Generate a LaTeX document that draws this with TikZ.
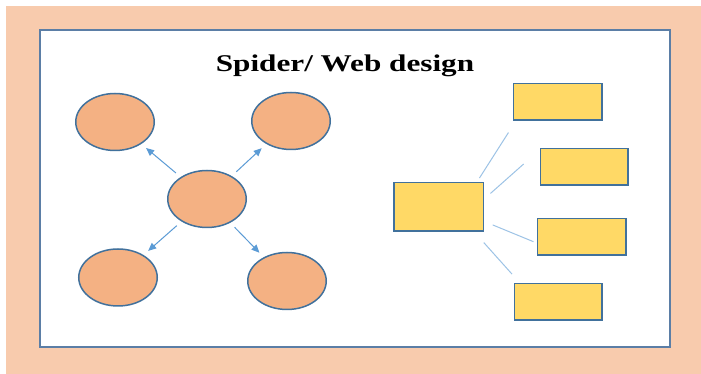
\documentclass[tikz,border=0pt]{standalone}
\usepackage{fontspec}
\usepackage{tikz}
\usetikzlibrary{shapes.geometric,arrows.meta}
\newfontfamily\titlefont[FakeStretch=1.3]{Liberation Serif}
\definecolor{peach}{HTML}{F8CBAD}
\definecolor{framecol}{HTML}{5B7EA6}
\definecolor{bubblefill}{HTML}{F4B183}
\definecolor{outline}{HTML}{41719C}
\definecolor{arrowcol}{HTML}{5B9BD5}
\definecolor{linkcol}{HTML}{9DC3E6}
\definecolor{boxfill}{HTML}{FFD966}
\tikzset{bubble style/.style={
		draw=outline,
		line width=1.5pt,
		fill=bubblefill,
		ellipse,
		inner sep=0pt,
		outer sep=0pt,
		minimum width=78.5pt,
		minimum height=57pt,
	},
	box style/.style={
		draw=outline,
		line width=1.5pt,
		fill=boxfill,
		rectangle,
		inner sep=0pt,
		outer sep=0pt,
		minimum width=#1,
		minimum height=36.5pt,
	},
	arrow style/.style={
		draw=arrowcol,
		line width=1pt,
		-{Triangle[length=8pt,width=7pt]},
		shorten <=7pt,
		shorten >=7pt
	},
	link style/.style={
		draw=linkcol,
		line width=1pt
	}
}

\begin{document}
\begin{tikzpicture}[x=1pt,y=1pt]
	\useasboundingbox (0,0) rectangle (701,374);
	\fill[peach] (6,0) rectangle (701,368);
	\draw[framecol,fill=white,line width=1.5pt] (40,27) rectangle (670,344);
	
	\node[anchor=base] (Title) at (345,302) {\titlefont\fontsize{24}{28}\selectfont\bfseries Spider/ Web design};
	
	% spider
	\node[bubble style] (Centre) at (207,175) {};
	\node[bubble style] (NorthWest) at (115,252) {};
	\node[bubble style] (NorthEast) at (291,253) {};
	\node[bubble style] (SouthWest) at (118,96.5) {};
	\node[bubble style] (SouthEast) at (287,93) {};
	\draw[arrow style] (Centre) -- (NorthWest);
	\draw[arrow style] (Centre) -- (NorthEast);
	\draw[arrow style] (Centre) -- (SouthWest);
	\draw[arrow style] (Centre) -- (SouthEast);
	
	% web
	\node[box style=89.5pt, minimum height=48.5pt] (Hub) at (438.7,167.3) {};
	\node[box style=88.5pt] (BoxA) at (557.7,272) {};
	\node[box style=87.5pt] (BoxB) at (584,207) {};
	\node[box style=88.5pt] (BoxC) at (581.7,137) {};
	\node[box style=87.5pt] (BoxD) at (558,72.3) {};
	\draw[link style] ([xshift=-4pt,yshift=4.4pt]Hub.north east) -- ([xshift=-5pt,yshift=-12.3pt]BoxA.south west);
	\draw[link style] ([xshift=7pt,yshift=-11pt]Hub.north east) -- ([xshift=-16.6pt,yshift=3pt]BoxB.west);
	\draw[link style] ([xshift=9.3pt,yshift=6pt]Hub.south east) -- ([xshift=-4pt,yshift=-4.7pt]BoxC.west);
	\draw[link style] ([xshift=0.3pt,yshift=-11.6pt]Hub.south east) -- ([xshift=-2.3pt,yshift=9.4pt]BoxD.north west);
\end{tikzpicture}
\end{document}
